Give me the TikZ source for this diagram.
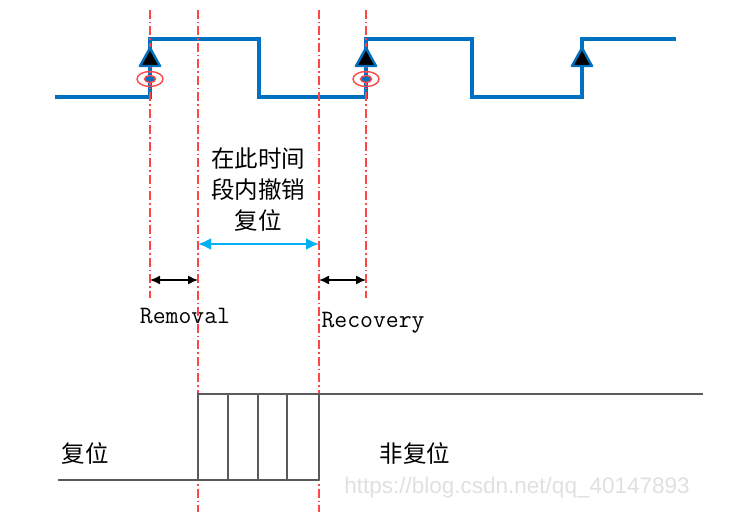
\documentclass[tikz,border=0pt]{standalone}
\usepackage{fontspec}
\setsansfont{Liberation Sans}
\newfontfamily\cjk{Noto Sans CJK SC}
\usetikzlibrary{arrows.meta, positioning}
\definecolor{clkblue}{RGB}{0,112,192}
\definecolor{winblue}{RGB}{0,176,240}
\definecolor{guidered}{RGB}{255,70,70}
\definecolor{rstgray}{RGB}{90,90,90}

\begin{document}
\begin{tikzpicture}[x=1pt, y=-1pt,
  wave/.style={line width=3.2pt, draw=clkblue, line join=miter},
  guide/.style={line width=1.4pt, draw=guidered, dash pattern=on 9pt off 3pt on 1.5pt off 3pt},
  edgetip/.style={fill=black, draw=clkblue, line width=2.4pt, line join=round},
  timing/.style={line width=1.4pt, {Latex[length=10pt,width=9pt]}-{Latex[length=10pt,width=9pt]}},
  cnlabel/.style={font=\cjk\fontsize{23.5}{31}\selectfont, inner sep=0pt},
  ttlabel/.style={font=\ttfamily\fontsize{25}{28}\selectfont, inner sep=0pt},
  rstwave/.style={line width=2.4pt, draw=rstgray}
]
\useasboundingbox (0,0) rectangle (735,521);

% clock
\draw[wave] (55,97) -- (150,97) -- (150,39) -- (259,39) -- (259,97)
  -- (366,97) -- (366,39) -- (472,39) -- (472,97) -- (582,97) -- (582,39) -- (676,39);

% guide lines
\draw[guide] (150,10) -- (150,298);
\draw[guide] (198,10) -- (198,512);
\draw[guide] (319,10) -- (319,512);
\draw[guide] (366,10) -- (366,298);

% rising edges
\foreach \x in {150,366,582}
  \draw[edgetip] (\x,48) -- (\x+10,66) -- (\x-10,66) -- cycle;
\foreach \x in {150,366} {
  \draw[guidered, line width=1.4pt] (\x,79) ellipse (13pt and 7.5pt);
  \draw[guidered, line width=1.4pt, fill=clkblue] (\x,79) ellipse (5.5pt and 3.5pt);
}

% timing arrows
\coordinate (remA) at (150,280);
\coordinate (remB) at (198,280);
\coordinate (recA) at (319,280);
\coordinate (recB) at (366,280);
\coordinate (winA) at (198,244);
\coordinate (winB) at (319,244);
\draw[timing] (remA) -- (remB);
\draw[timing] (recA) -- (recB);
\draw[line width=2.4pt, draw=winblue, {Latex[length=13pt,width=12pt]}-{Latex[length=13pt,width=12pt]}] (winA) -- (winB);

\node[cnlabel, align=center] (window) at (258,190) {在此时间\\段内撤销\\复位};
\node[ttlabel] (removal) at (185,316) {Removal};
\node[ttlabel] (recovery) at (373,323) {Recovery};

% reset
\draw[rstwave] (58,480) -- (319,480);
\draw[rstwave] (198,480) -- (198,394) -- (703,394);
\foreach \x in {228,258,287,319}
  \draw[rstwave] (\x,394) -- (\x,480);
\node[cnlabel] (rston) at (85,453) {复位};
\node[cnlabel] (rstoff) at (415,453) {非复位};

\node[font=\sffamily\fontsize{22.5}{26}\selectfont, text=black!12, inner sep=0pt] (mark) at (517,488) {https://blog.csdn.net/qq\_40147893};
\end{tikzpicture}
\end{document}
